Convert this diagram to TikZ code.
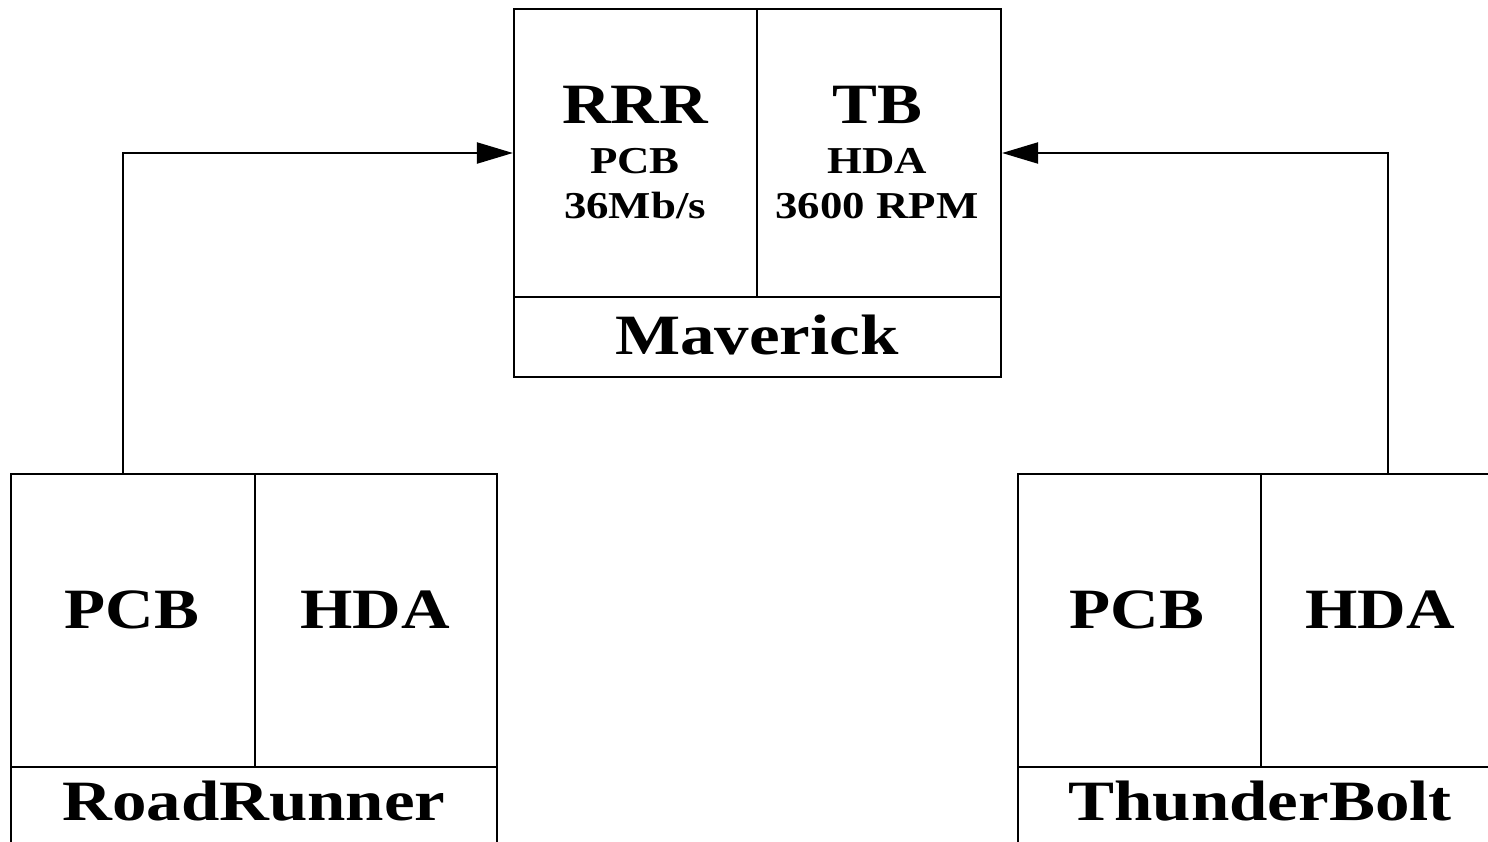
\documentclass[tikz,border=0pt]{standalone}
\usepackage{fontspec}
\setmainfont{Liberation Serif}
\usepackage{graphicx}
\usetikzlibrary{arrows.meta}
\newcommand\stretchtxt[1]{\scalebox{1.18}[1]{#1}}
\newcommand\stretchbig[1]{\scalebox{1.21}[1]{#1}}
\begin{document}
\begin{tikzpicture}[x=1pt,y=-1pt,
  cell/.style={draw, line width=2.2pt, inner sep=0pt},
  big/.style={font=\bfseries\fontsize{57}{60}\selectfont, anchor=base, inner sep=0pt},
  mid/.style={font=\bfseries\fontsize{38}{40}\selectfont, anchor=base, inner sep=0pt},
  conn/.style={line width=2.2pt, -{Triangle[length=36pt,width=21pt]}}]
\useasboundingbox[fill=white] (0,0) rectangle (1488,841);
% Maverick
\node[cell, minimum width=243pt, minimum height=288pt] (rrr) at (635.5,153) {};
\node[cell, minimum width=244pt, minimum height=288pt] (tb) at (879,153) {};
\node[cell, minimum width=487pt, minimum height=80pt] (mav) at (757.5,337) {};
\node[big] (trrr) at (635,123) {\stretchtxt{RRR}};
\node[mid] (tpcb) at (635,173) {\stretchtxt{PCB}};
\node[mid] (trate) at (635,218) {\stretchtxt{36Mb/s}};
\node[big] (ttb) at (877,123) {\stretchtxt{TB}};
\node[mid] (thda) at (877,173) {\stretchtxt{HDA}};
\node[mid] (trpm) at (877,218) {\stretchtxt{3600 RPM}};
\node[big] (tmav) at (757,354) {\stretchbig{Maverick}};
% RoadRunner
\node[cell, minimum width=244pt, minimum height=293pt] (pcbL) at (133,620.5) {};
\node[cell, minimum width=242pt, minimum height=293pt] (hdaL) at (376,620.5) {};
\node[cell, minimum width=486pt, minimum height=80pt] (rrL) at (254,807) {};
\node[big] (tpcbL) at (132,628) {\stretchtxt{PCB}};
\node[big] (thdaL) at (375,628) {\stretchtxt{HDA}};
\node[big] (trrL) at (254,820) {\stretchbig{RoadRunner}};
% ThunderBolt
\node[cell, minimum width=243pt, minimum height=293pt] (pcbR) at (1139.5,620.5) {};
\node[cell, minimum width=243pt, minimum height=293pt] (hdaR) at (1382.5,620.5) {};
\node[cell, minimum width=486pt, minimum height=80pt] (tbL) at (1261,807) {};
\node[big] (tpcbR) at (1137,628) {\stretchtxt{PCB}};
\node[big] (thdaR) at (1380,628) {\stretchtxt{HDA}};
\node[big] (ttbL) at (1260,820) {\stretchbig{ThunderBolt}};
% connectors
\coordinate (s1) at (123,474);
\coordinate (s2) at (1388,474);
\draw[conn] (s1) |- (rrr.west);
\draw[conn] (s2) |- (tb.east);
\end{tikzpicture}
\end{document}
